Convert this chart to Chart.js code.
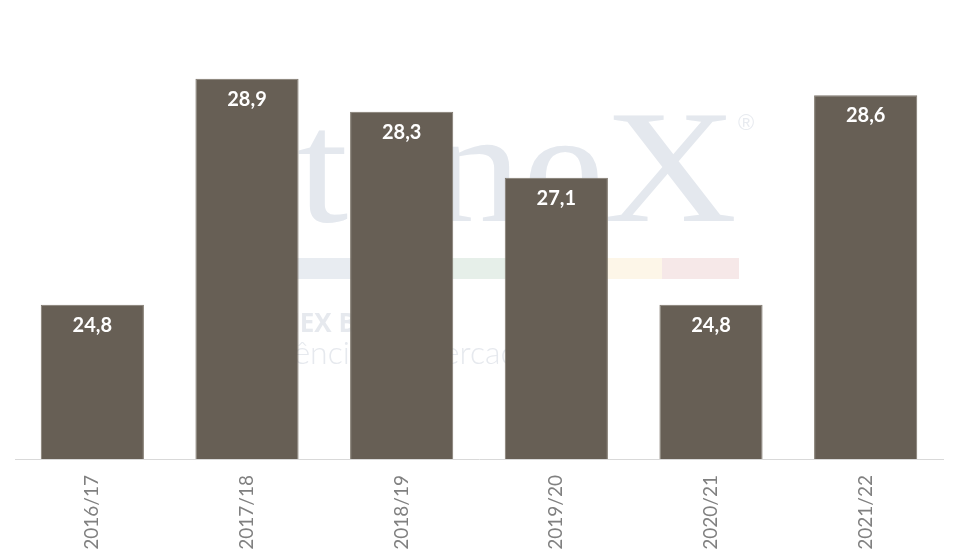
<!DOCTYPE html>
<html>
<head>
<meta charset="utf-8">
<script src="https://cdn.jsdelivr.net/npm/chart.js@4"></script>
<style>
  html, body { margin: 0; padding: 0; background: #ffffff; }
  #wrap { width: 958px; height: 559px; position: relative; }
</style>
</head>
<body>
<div id="wrap"><canvas id="c"></canvas></div>
<script>
const categories = ["2016/17", "2017/18", "2018/19", "2019/20", "2020/21", "2021/22"];
const values = [24.8, 28.9, 28.3, 27.1, 24.8, 28.6];
const valueLabels = ["24,8", "28,9", "28,3", "27,1", "24,8", "28,6"];

const watermark = {
  id: 'watermark',
  beforeDatasetsDraw(chart) {
    const ctx = chart.ctx;
    ctx.save();
    ctx.fillStyle = '#e4e8ee';
    ctx.font = '162px "Liberation Serif", serif';
    ctx.textBaseline = 'alphabetic';
    const w = ctx.measureText('teneX').width;
    ctx.translate(297, 221);
    ctx.scale(440 / w, 1);
    ctx.fillText('teneX', 0, 0);
    ctx.restore();
    ctx.save();
    ctx.fillStyle = '#e8ebf0';
    ctx.font = '22px "Liberation Sans", sans-serif';
    ctx.fillText('®', 738, 130);
    const stripes = [[297, 450, '#e8ecf1'], [450, 555, '#e6efe9'], [555, 662, '#fdf6e8'], [662, 739, '#f6e8e8']];
    stripes.forEach(s => { ctx.fillStyle = s[2]; ctx.fillRect(s[0], 258, s[1] - s[0], 21); });
    ctx.fillStyle = '#e6e9ee';
    ctx.font = 'bold 26px "Open Sans", sans-serif';
    ctx.fillText('TENEX BRASIL', 249, 332);
    ctx.font = '300 32px Lato, sans-serif';
    ctx.fillText('Inteligência de mercado', 210, 364);
    ctx.restore();
  }
};

const valueLabelPlugin = {
  id: 'valueLabels',
  afterDatasetsDraw(chart) {
    const ctx = chart.ctx;
    const meta = chart.getDatasetMeta(0);
    ctx.save();
    ctx.fillStyle = '#ffffff';
    ctx.font = 'bold 20px Lato, sans-serif';
    ctx.textAlign = 'center';
    ctx.textBaseline = 'alphabetic';
    meta.data.forEach((bar, i) => {
      ctx.fillText(valueLabels[i], bar.x, bar.y + 27);
    });
    ctx.restore();
  }
};

new Chart(document.getElementById('c'), {
  type: 'bar',
  data: {
    labels: categories,
    datasets: [{
      data: values,
      backgroundColor: '#675f55',
      borderColor: '#7f786e',
      borderWidth: 1,
      barPercentage: 0.667,
      categoryPercentage: 1.0
    }]
  },
  options: {
    responsive: true,
    maintainAspectRatio: false,
    animation: false,
    layout: { padding: { left: 15, right: 15, top: 18, bottom: 0 } },
    plugins: { legend: { display: false }, tooltip: { enabled: false } },
    scales: {
      x: {
        grid: { display: false, drawTicks: false },
        border: { display: true, color: '#d9d9d9', width: 1 },
        afterFit(scale) { scale.height = 100; },
        ticks: {
          minRotation: 90, maxRotation: 90,
          color: '#808080',
          padding: 16,
          font: { family: 'Lato', size: 19 }
        }
      },
      y: {
        display: false,
        min: 22, max: 30
      }
    }
  },
  plugins: [watermark, valueLabelPlugin]
});
</script>
</body>
</html>
